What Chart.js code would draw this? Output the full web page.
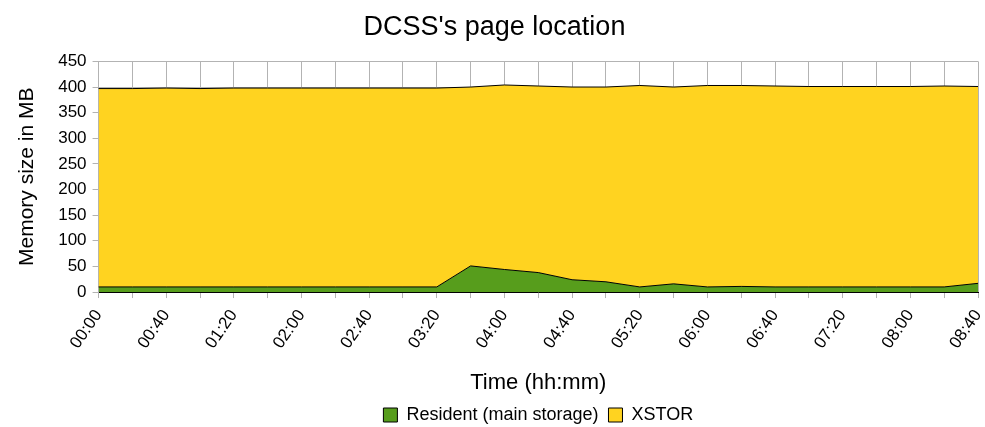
<!DOCTYPE html>
<html>
<head>
<meta charset="utf-8">
<script src="https://cdn.jsdelivr.net/npm/chart.js@4/dist/chart.umd.min.js"></script>
<style>
  html, body { margin: 0; padding: 0; background: #fff; }
  #wrap { width: 985px; height: 427px; }
</style>
</head>
<body>
<div id="wrap"><canvas id="chart"></canvas></div>
<script>
// Time axis, one sample every 20 minutes
const times = ['00:00','00:20','00:40','01:00','01:20','01:40','02:00','02:20','02:40','03:00',
               '03:20','03:40','04:00','04:20','04:40','05:00','05:20','05:40','06:00','06:20',
               '06:40','07:00','07:20','07:40','08:00','08:20','08:40'];

// Memory (MB) held in main storage
const resident = [10, 10, 10, 10, 10, 10, 10, 10, 10, 10,
                  10, 51, 44, 38, 24, 20, 10, 16, 10, 11,
                  10, 10, 10, 10, 10, 10, 17];

// Memory (MB) held in expanded storage
const xstor = [387, 387, 388, 387, 388, 388, 388, 388, 388, 388,
               388, 349, 360, 364, 376, 380, 393, 384, 393, 392,
               392, 391, 391, 391, 391, 392, 384];

const yTicks = { min: 0, max: 450, step: 50 };

const gridColor = '#b3b3b3';
const fontFamily = "'Liberation Sans', Arial, sans-serif";

// drop the extra side padding chart.js reserves for rotated labels
const noSidePadding = scale => { scale.paddingLeft = 0; scale.paddingRight = 0; };

// keep the wide gap between legend items but a shorter legend box
const legendTrim = {
    id: 'legendTrim',
    beforeUpdate(chart) {
        const lg = chart.legend;
        if (lg && !lg._trimmed) {
            const fit = lg.fit;
            lg.fit = function () { fit.call(this); this.height -= 7; };
            lg._trimmed = true;
        }
    }
};

new Chart(document.getElementById('chart').getContext('2d'), {
    type: 'line',
    data: {
        labels: times,
        datasets: [
            {
                label: 'Resident (main storage)',
                data: resident,
                backgroundColor: '#579d1c',
                borderColor: '#000000',
                borderWidth: 1,
                fill: 'origin',
                pointRadius: 0,
                tension: 0
            },
            {
                label: 'XSTOR',
                data: xstor,
                backgroundColor: '#ffd320',
                borderColor: '#000000',
                borderWidth: 1,
                fill: '-1',
                pointRadius: 0,
                tension: 0
            }
        ]
    },
    plugins: [legendTrim],
    options: {
        responsive: true,
        maintainAspectRatio: false,
        animation: false,
        layout: { padding: { left: 11, right: 7, top: 2, bottom: 0 } },
        plugins: {
            title: {
                display: true,
                text: "DCSS's page location",
                color: '#000',
                font: { family: fontFamily, size: 27, weight: 'normal' },
                padding: { top: 9, bottom: 18 }
            },
            legend: {
                position: 'bottom',
                fullSize: false,
                labels: {
                    color: '#000',
                    font: { family: fontFamily, size: 18 },
                    boxWidth: 14,
                    boxHeight: 14,
                    padding: 10
                }
            },
            tooltip: { enabled: false }
        },
        scales: {
            x: {
                offset: false,
                afterFit: noSidePadding,
                grid: { color: gridColor, tickLength: 6, drawOnChartArea: true },
                border: { color: '#000' },
                ticks: {
                    autoSkip: false,
                    maxRotation: 55,
                    minRotation: 55,
                    padding: 8,
                    color: '#000',
                    font: { family: fontFamily, size: 17 },
                    callback: (val, i) => (i % 2 === 0 ? times[i] : '')
                },
                title: {
                    display: true,
                    text: 'Time (hh:mm)',
                    color: '#000',
                    font: { family: fontFamily, size: 22 },
                    padding: { top: 9, bottom: 0 }
                }
            },
            y: {
                stacked: true,
                min: yTicks.min,
                max: yTicks.max,
                grid: { color: gridColor, tickLength: 6 },
                border: { color: gridColor },
                ticks: {
                    stepSize: yTicks.step,
                    color: '#000',
                    padding: 6,
                    font: { family: fontFamily, size: 17 }
                },
                title: {
                    display: true,
                    text: 'Memory size in MB',
                    color: '#000',
                    font: { family: fontFamily, size: 21 },
                    padding: { top: 4, bottom: 12 }
                }
            }
        }
    }
});
</script>
</body>
</html>
